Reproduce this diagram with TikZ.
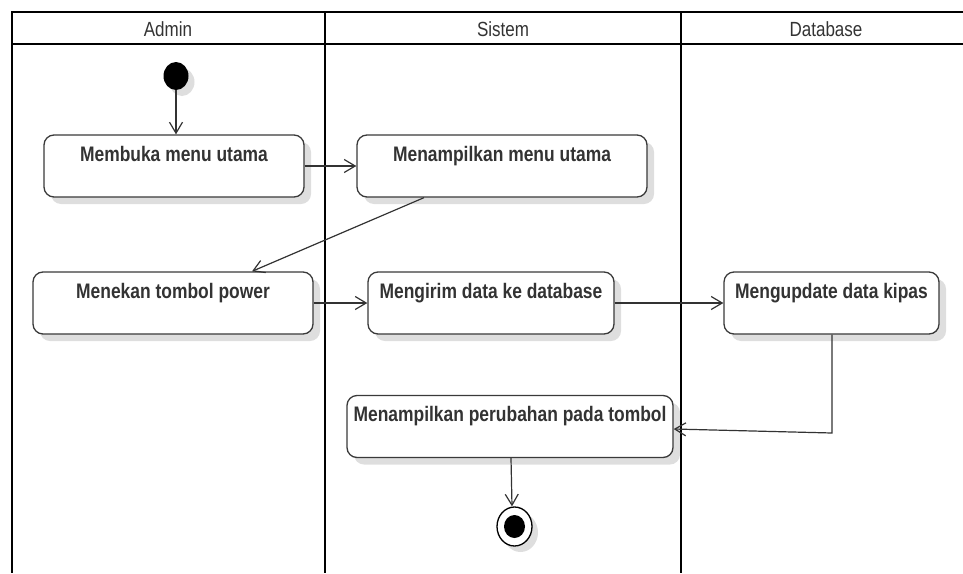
\documentclass[tikz,border=0pt]{standalone}
\usepackage{fontspec}
\usetikzlibrary{arrows.meta,shapes.geometric,shadows}
\newfontfamily\lanefont[FakeStretch=0.83]{Liberation Sans}
\definecolor{inkgray}{HTML}{333333}
\definecolor{edgegray}{HTML}{3A3A3A}
\begin{document}
\begin{tikzpicture}[x=1pt,y=-1pt,
  lane/.style={line width=2.4pt,black},
  lanehead/.style={font=\lanefont\fontsize{20.5}{22}\selectfont, text=inkgray, inner sep=0pt},
  act/.style={rectangle, draw=edgegray, line width=1.3pt, rounded corners=10pt, fill=white,
    inner xsep=0pt, inner ysep=6pt, text height=20pt, text depth=30pt,
    font=\lanefont\bfseries\fontsize{21}{23}\selectfont, text=inkgray,
    drop shadow={shadow xshift=7pt, shadow yshift=-7pt, fill=black, opacity=0.13}},
  flow/.style={draw=inkgray, line width=1.2pt, -{Straight Barb[length=11pt,width=13pt,line width=1.2pt]}},
  startdot/.style={ellipse, fill=black, minimum width=25pt, minimum height=28pt, inner sep=0pt,
    drop shadow={shadow xshift=6pt, shadow yshift=-6pt, fill=black, opacity=0.13}},
]
\useasboundingbox (0,0) rectangle (963,573);

% swimlane frame
\draw[lane] (963,12) -- (12,12) -- (12,573);
\draw[lane] (12,44) -- (963,44);
\draw[lane] (325,12) -- (325,573);
\draw[lane] (681,12) -- (681,573);
\node[lanehead] (hadmin) at (168,29) {Admin};
\node[lanehead] (hsistem) at (503,29) {Sistem};
\node[lanehead] (hdb) at (826,29) {Database};

% activities
\node[startdot] (start) at (176,76) {};
\node[act, minimum width=260pt] (membuka) at (174,166) {Membuka menu utama};
\node[act, minimum width=290pt] (tampilmenu) at (502,166) {Menampilkan menu utama};
\node[act, minimum width=280pt] (menekan) at (173,303) {Menekan tombol power};
\node[act, minimum width=246pt] (kirim) at (491,303) {Mengirim data ke database};
\node[act, minimum width=215pt] (update) at (831.5,303) {Mengupdate data kipas};
\node[act, minimum width=326pt] (ubah) at (510,426.5) {Menampilkan perubahan pada tombol};

% final node
\node[ellipse, draw=black, line width=1.3pt, fill=white, minimum width=35pt, minimum height=39pt, inner sep=0pt,
  drop shadow={shadow xshift=6pt, shadow yshift=-6pt, fill=black, opacity=0.13}] (final) at (514.5,526.5) {};
\node[ellipse, fill=black, minimum width=21pt, minimum height=23pt, inner sep=0pt] (finaldot) at (final.center) {};

% control flow
\draw[flow] (start.south) -- (membuka.north -| start.south);
\draw[flow] (membuka.east) -- (tampilmenu.west);
\draw[flow] (tampilmenu.south -| 424,0) -- (menekan.north -| 252,0);
\draw[flow] (menekan.east) -- (kirim.west);
\draw[flow] (kirim.east) -- (update.west);
\coordinate (bend) at (832,433);
\draw[flow] (update.south -| bend) -- (bend) -- (ubah.east |- 0,429);
\draw[flow] (ubah.south -| 511,0) -- (final.north -| 512,0);
\end{tikzpicture}
\end{document}
